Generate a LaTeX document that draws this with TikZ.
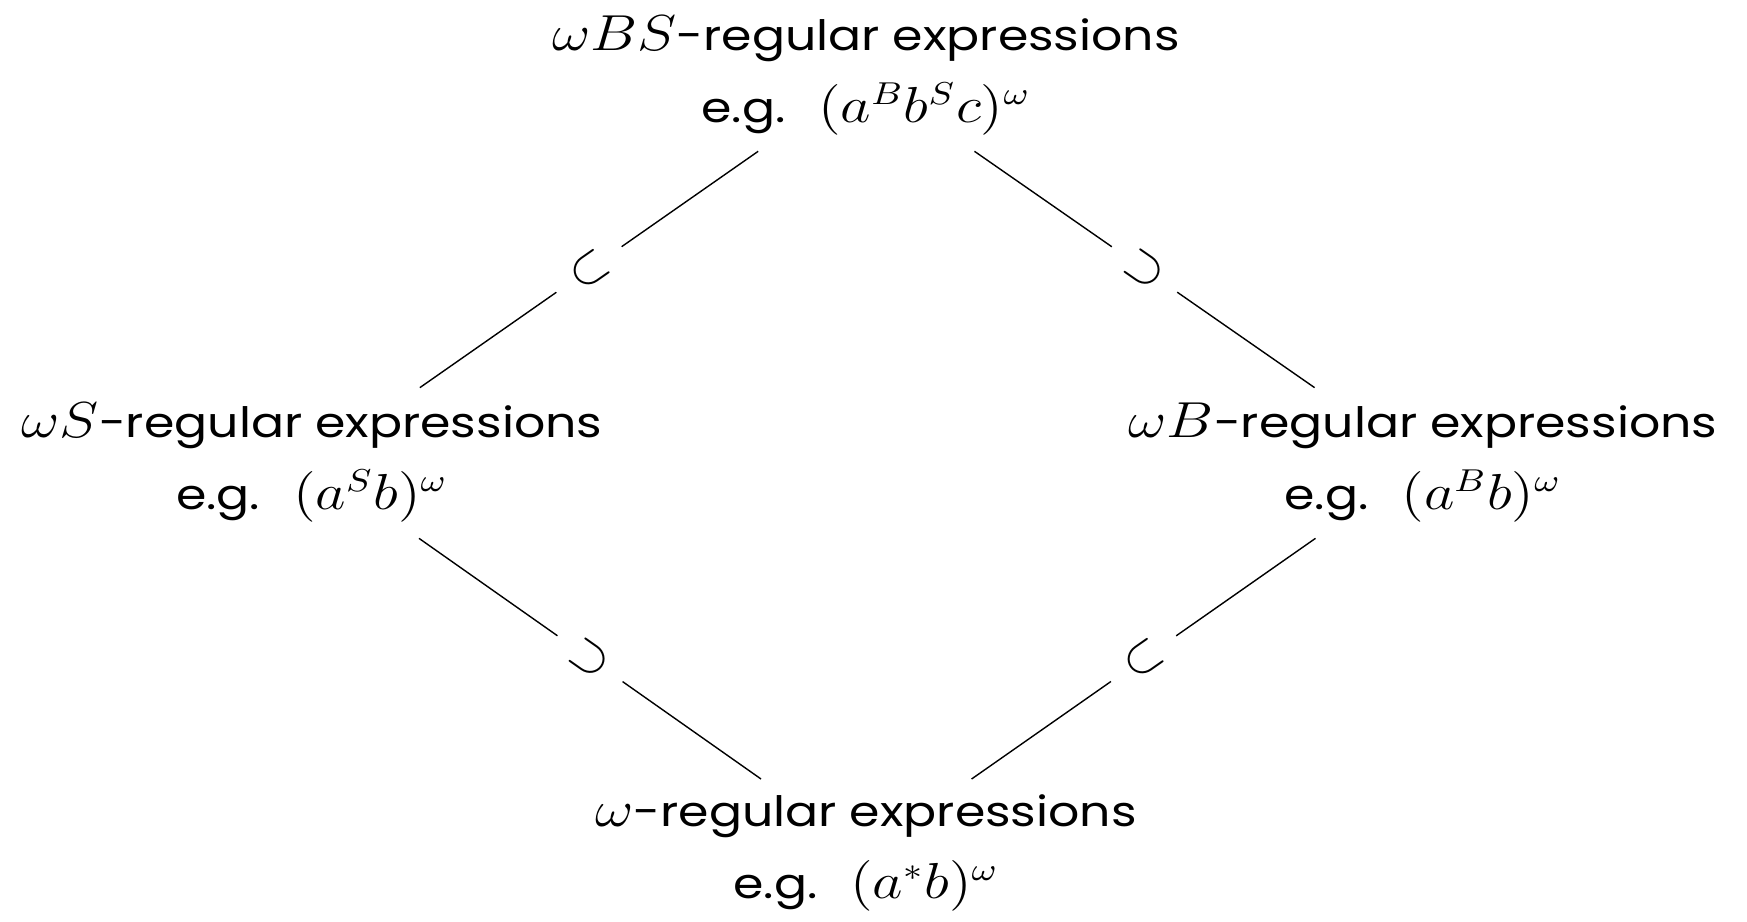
\documentclass[tikz,border=0pt]{standalone}
\usepackage{fontspec}
\setmainfont{Poppins}[Scale=0.895]
\usetikzlibrary{positioning}
\begin{document}
\begin{tikzpicture}[
    every node/.style={align=center, inner xsep=0.05cm, inner ysep=0.15cm},
    expr/.style={xscale=1.17, font=\fontsize{13.3}{20.5}\selectfont},
    incl/.style={sloped, fill=white, inner sep=0.2cm, font=\fontsize{15}{15}\selectfont}
]
\useasboundingbox (0,0) rectangle (17.47,9.22);
\node[expr] (bs) at (8.66,8.46) {$\omega BS$-regular expressions\\e.g.\hspace{8pt}$(a^Bb^Sc)^\omega$};
\node[expr] (s) at (3.12,4.59) {$\omega S$-regular expressions\\e.g.\hspace{8pt}$(a^Sb)^\omega$};
\node[expr] (b) at (14.23,4.59) {$\omega B$-regular expressions\\e.g.\hspace{8pt}$(a^Bb)^\omega$};
\node[expr] (w) at (8.66,0.69) {$\omega$-regular expressions\\e.g.\hspace{8pt}$(a^*b)^\omega$};

\draw (bs) -- node[incl] {$\subset$} (s);
\draw (bs) -- node[incl] {$\supset$} (b);
\draw (s) -- node[incl] {$\supset$} (w);
\draw (b) -- node[incl] {$\subset$} (w);
\end{tikzpicture}
\end{document}
